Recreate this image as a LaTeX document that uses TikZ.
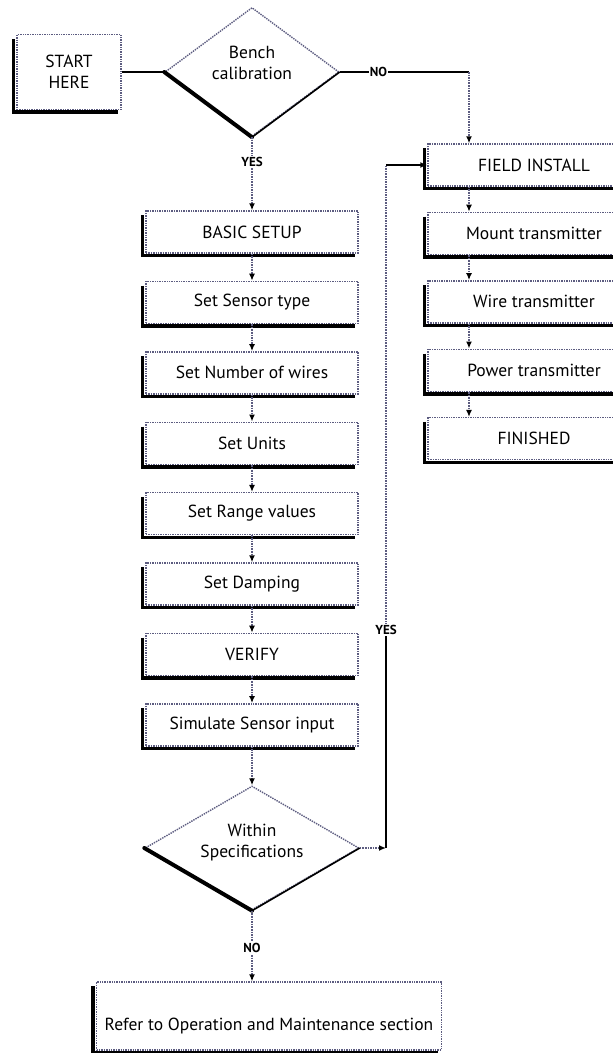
\documentclass[tikz,border=0pt]{standalone}
\usepackage{fontspec}
\setmainfont{PT Sans}
\usetikzlibrary{arrows.meta,shapes.geometric,positioning}
\definecolor{dotline}{RGB}{92,92,128}

\begin{document}
\begin{tikzpicture}[x=1pt,y=-1pt,node distance=27pt,>={Latex[length=7pt,width=6pt]},
    font=\fontsize{17.5}{21}\selectfont]
  \tikzstyle{box}=[rectangle,draw=dotline,densely dotted,line width=1.4pt,fill=white,
                   minimum width=212pt,minimum height=42pt,inner sep=0pt]
  \tikzstyle{decision}=[diamond,draw=dotline,densely dotted,line width=1.4pt,inner sep=0pt]
  \tikzstyle{link}=[draw=dotline,densely dotted,line width=1.6pt,
                    -{Latex[black,length=7pt,width=6pt]}]
  \tikzstyle{solid link}=[draw=black,line width=1.6pt]
  \tikzstyle{boxshade}=[line width=3.5pt]
  \tikzstyle{flag}=[font=\fontsize{13}{13}\bfseries\selectfont,fill=white,inner sep=1pt]
  \useasboundingbox (0,0) rectangle (613,1053);
  \clip (0,0) rectangle (613,1053);
  \fill[white] (0,0) rectangle (613,1053);

  % start and first decision
  \node[box,minimum width=104pt,minimum height=75pt,align=center] (start) at (69,72) {START\\HERE};
  \node[decision,minimum width=174pt,minimum height=129pt] (bench) at (252,72) {};
  \node[align=center] (benchtxt) at (252,63) {Bench\\calibration};

  % bench setup column
  \node[box] (basic) at (252,232) {BASIC SETUP};
  \node[box,below=of basic] (sensor) {Set Sensor type};
  \node[box,below=of sensor] (wires) {Set Number of wires};
  \node[box,below=of wires] (units) {Set Units};
  \node[box,below=of units] (range) {Set Range values};
  \node[box,below=of range] (damping) {Set Damping};
  \node[box,below=of damping] (verify) {VERIFY};
  \node[box,below=of verify] (simulate) {Simulate Sensor input};
  \node[decision,minimum width=214pt,minimum height=124pt] (within) at (252,848) {};
  \node[align=center] (withintxt) at (252,843) {Within\\Specifications};
  \node[box,minimum width=345pt,minimum height=68pt,text height=33pt,text depth=4pt] (refer)
    at (269,1016) {Refer to Operation and Maintenance section};

  % field column
  \begin{scope}[node distance=25pt,every node/.append style={minimum height=44pt}]
    \node[box] (field) at (534,165) {FIELD INSTALL};
    \node[box,below=of field] (mount) {Mount transmitter};
    \node[box,below=of mount] (wire) {Wire transmitter};
    \node[box,below=of wire] (power) {Power transmitter};
    \node[box,below=of power] (finished) {FINISHED};
  \end{scope}

  % shading on left and bottom sides
  \foreach \n in {start,basic,sensor,wires,units,range,damping,verify,simulate,refer,
                  field,mount,wire,power,finished}
    \draw[boxshade] ([xshift=-3pt,yshift=-5pt]\n.north west) -- ([xshift=-3pt,yshift=-2pt]\n.south west)
      -- ([xshift=-4pt,yshift=-2pt]\n.south east);
  \foreach \d in {bench,within} {
    \draw[line width=4pt,line cap=round] (\d.west) -- (\d.south);
    \draw[line width=1.6pt] (\d.south) -- (\d.east);
  }

  \coordinate (nocorner) at (469,72);
  \coordinate (loopbot) at (386,848);
  \coordinate (yesmark) at (386,630);
  \coordinate (looptop) at (386,165);

  % connectors
  \draw[solid link] (start.east) -- (bench.west);
  \draw[solid link] (bench.east) -- node[flag,pos=0.3] (nolabel) {NO} (nocorner);
  \draw[link] (nocorner) -- (nocorner |- field.north);
  \draw[link] (bench.south) -- node[flag,pos=0.34] (yeslabel) {YES} (basic.north);
  \foreach \a/\b in {basic/sensor,sensor/wires,wires/units,units/range,range/damping,
                     damping/verify,verify/simulate,simulate/within}
    \draw[link] (\a) -- (\b);
  \foreach \a/\b in {field/mount,mount/wire,wire/power,power/finished}
    \draw[link] (\a.south -| nocorner) -- (\b.north -| nocorner);
  \draw[link] (within.east) -- (loopbot);
  \draw[solid link] (loopbot) -- (yesmark);
  \draw[draw=dotline,densely dotted,line width=1.6pt] (yesmark) -- (looptop);
  \node[flag] (loopyes) at (yesmark) {YES};
  \draw[solid link,->] (looptop) -- (field.west);
  \draw[link] (within.south) -- node[flag,pos=0.53] (nolabel2) {NO} (within.south |- refer.north);
\end{tikzpicture}
\end{document}
